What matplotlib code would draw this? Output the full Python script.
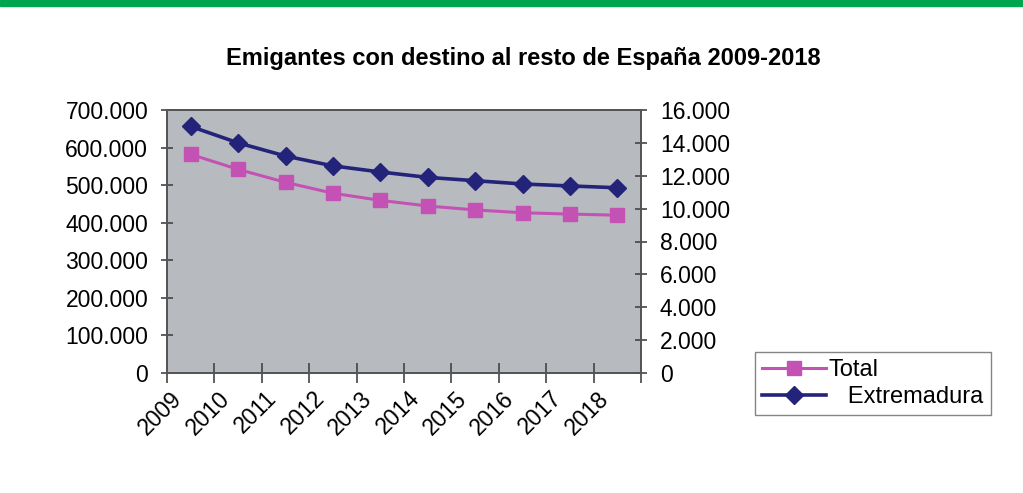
import numpy as np
import matplotlib
matplotlib.use('Agg')
import matplotlib.pyplot as plt
import matplotlib.transforms as mtransforms
from matplotlib.ticker import FuncFormatter, FixedLocator
from matplotlib.patches import Rectangle

## Data
years = ['2009', '2010', '2011', '2012', '2013', '2014', '2015', '2016', '2017', '2018']
total = [582000, 542000, 507500, 478500, 459500, 444500, 434000, 426500, 423000, 420000]
extremadura = [15000, 14000, 13200, 12600, 12230, 11900, 11700, 11500, 11380, 11270]

plt.rcParams['font.family'] = ['Liberation Sans', 'DejaVu Sans']

def miles(v, pos):
    return f'{int(round(v)):,}'.replace(',', '.')

fig = plt.figure(figsize=(10.23, 4.93), dpi=100)
fig.patch.set_facecolor('white')

# green band on top
fig.add_artist(Rectangle((0, 1 - 6/493), 1, 6/493, transform=fig.transFigure,
                         color='#00a550', zorder=5))

ax = fig.add_axes([167/1023, 1 - 373/493, 474/1023, 263/493])
ax.set_facecolor('#b7bbbf')
ax2 = ax.twinx()

x = np.arange(len(years))
l1, = ax.plot(x, total, color='#c452b4', lw=2.2, marker='s', ms=10,
              mfc='#c452b4', mec='#c452b4', label='Total', zorder=3)
l2, = ax2.plot(x, extremadura, color='#24237a', lw=2.6, marker='D', ms=9.5,
               mfc='#24237a', mec='#24237a', label='   Extremadura', zorder=3)

ax.set_xlim(-0.5, len(years) - 0.5)
ax.set_ylim(0, 700000)
ax2.set_ylim(0, 16000)
ax.set_yticks(np.arange(0, 700001, 100000))
ax2.set_yticks(np.arange(0, 16001, 2000))
ax.yaxis.set_major_formatter(FuncFormatter(miles))
ax2.yaxis.set_major_formatter(FuncFormatter(miles))

ax.xaxis.set_major_locator(FixedLocator(np.arange(-0.5, len(years), 1.0)))
ax.xaxis.set_major_formatter(FuncFormatter(lambda v, p: ''))
ax.set_xticks(x, minor=True)
ax.set_xticklabels(years, minor=True, rotation=45, ha='right', va='center',
                   rotation_mode='anchor', fontsize=16.5)
ax.tick_params(axis='x', which='major', direction='inout', length=14, width=1.2, color='#444444')
ax.tick_params(axis='x', which='minor', length=0, pad=0)
offset = mtransforms.ScaledTranslation(-12/100, -22/100, fig.dpi_scale_trans)
for lab in ax.get_xticklabels(minor=True):
    lab.set_transform(lab.get_transform() + offset)

ax.tick_params(axis='y', direction='inout', length=9, width=1.2, color='#444444',
               labelsize=16.5, pad=9)
ax2.tick_params(axis='y', direction='inout', length=9, width=1.2, color='#444444',
                labelsize=16.5, pad=9)

for a in (ax, ax2):
    for s in a.spines.values():
        s.set_color('#555555')
        s.set_linewidth(1.3)

fig.text(523/1023, 1 - 59/493, 'Emigantes con destino al resto de España 2009-2018',
         ha='center', va='center', fontsize=17, fontweight='bold')

leg = fig.legend([l1, l2], ['Total', '   Extremadura'], loc='upper left',
                 bbox_to_anchor=(755/1023, 1 - 352/493), fontsize=17, frameon=True,
                 fancybox=False, edgecolor='#666666', handlelength=2.7,
                 handletextpad=0.1, borderpad=0.3, labelspacing=0.2, borderaxespad=0)
leg.get_frame().set_linewidth(1.0)

plt.savefig('out.png', dpi=100)
